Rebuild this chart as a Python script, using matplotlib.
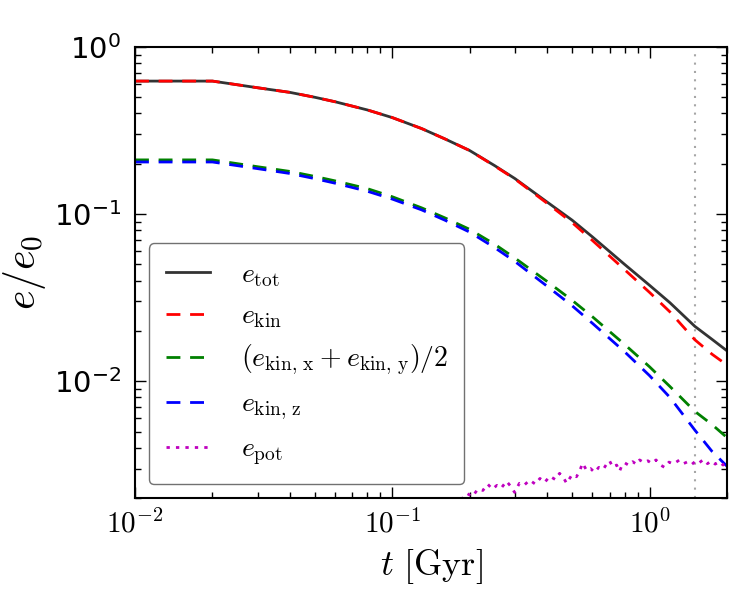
import numpy as np
import matplotlib
matplotlib.use('Agg')
import matplotlib.pyplot as plt

# Tiempos de salida (Gyr) y energias normalizadas e/e0
t = [0.01, 0.02, 0.03, 0.04, 0.05, 0.06, 0.08, 0.10, 0.13, 0.16, 0.20,
     0.25, 0.30, 0.40, 0.50, 0.60, 0.80, 1.00, 1.20, 1.50, 1.75, 2.00]

e_tot = [0.625, 0.625, 0.570, 0.535, 0.500, 0.470, 0.420, 0.378, 0.325, 0.282, 0.240,
         0.195, 0.163, 0.118, 0.092, 0.073, 0.050, 0.0375, 0.0295, 0.0213, 0.0178, 0.0152]
e_kin = [0.625, 0.625, 0.570, 0.535, 0.500, 0.470, 0.420, 0.378, 0.325, 0.282, 0.240,
         0.194, 0.162, 0.116, 0.089, 0.0695, 0.0465, 0.0340, 0.0260, 0.0177, 0.0145, 0.0125]
e_kin_xy = [0.211, 0.211, 0.192, 0.180, 0.168, 0.158, 0.142, 0.127, 0.109, 0.095, 0.081,
            0.066, 0.0545, 0.0395, 0.0305, 0.0243, 0.0166, 0.0122, 0.0093, 0.0066, 0.0055, 0.0046]
e_kin_z = [0.205, 0.205, 0.187, 0.175, 0.163, 0.153, 0.137, 0.123, 0.106, 0.092, 0.078,
           0.063, 0.052, 0.0370, 0.0283, 0.0222, 0.0150, 0.0108, 0.0080, 0.0051, 0.0038, 0.0031]

# Energia potencial (ruidosa), solo visible a partir de ~0.19 Gyr
t_pot = [0.185, 0.195, 0.205, 0.215, 0.225, 0.235, 0.245, 0.255, 0.265, 0.278, 0.288,
         0.299, 0.312, 0.325, 0.342, 0.36, 0.375, 0.391, 0.41, 0.43, 0.447, 0.462, 0.476,
         0.50, 0.52, 0.535, 0.549, 0.57, 0.59, 0.611, 0.635, 0.66, 0.68, 0.699, 0.72,
         0.745, 0.765, 0.78, 0.80, 0.83, 0.86, 0.89, 0.915, 0.95, 0.985, 1.02, 1.06,
         1.10, 1.144, 1.19, 1.24, 1.308, 1.36, 1.41, 1.46, 1.52, 1.564, 1.62, 1.68,
         1.74, 1.80, 1.87, 1.93, 2.00]
e_pot = [0.00195, 0.00213, 0.00204, 0.00226, 0.00222, 0.00242, 0.00226, 0.00238, 0.00229,
         0.00252, 0.00236, 0.00216, 0.00245, 0.00238, 0.00256, 0.00242, 0.00262, 0.00248,
         0.00270, 0.00258, 0.00281, 0.00266, 0.00245, 0.00276, 0.00268, 0.00290, 0.00323,
         0.00292, 0.00300, 0.00285, 0.00305, 0.00296, 0.00318, 0.00334, 0.00306, 0.00315,
         0.00289, 0.00312, 0.00325, 0.00314, 0.00330, 0.00318, 0.00338, 0.00326, 0.00334,
         0.00322, 0.00338, 0.00316, 0.00305, 0.00328, 0.00320, 0.00338, 0.00322, 0.00330,
         0.00318, 0.00335, 0.00326, 0.00340, 0.00321, 0.00333, 0.00319, 0.00330, 0.00315,
         0.00322]

t_mark = 1.5  # linea vertical punteada

plt.rcParams['mathtext.fontset'] = 'cm'

fig = plt.figure(figsize=(7.5, 6), dpi=100)
ax = fig.add_axes([0.18, 0.17, 0.7893, 0.7517])

ax.axvline(t_mark, color='0.65', lw=1.5, dashes=(1, 3))

ax.plot(t, e_tot, color='0.2', lw=2, label=r'$e_{\rm tot}$')
ax.plot(t, e_kin, color='r', lw=2, dashes=(5, 3.5), label=r'$e_{\rm kin}$')
ax.plot(t, e_kin_xy, color='g', lw=2, dashes=(5, 3.5),
        label=r'$(e_{\rm kin,\,x}+e_{\rm kin,\,y})/2$')
ax.plot(t, e_kin_z, color='b', lw=2, dashes=(5, 3.5), label=r'$e_{\rm kin,\,z}$')
ax.plot(t_pot, e_pot, color='m', lw=2, dashes=(1.2, 2.2), label=r'$e_{\rm pot}$')

ax.set_xscale('log')
ax.set_yscale('log')
ax.set_xlim(0.01, 2)
ax.set_ylim(0.002, 1)

ax.set_xticks([0.01, 0.1, 1])
ax.set_xticklabels([r'$10^{-2}$', r'$10^{-1}$', r'$10^{0}$'])
ax.set_yticks([0.01, 0.1, 1])
ax.set_yticklabels([r'$10^{-2}$', r'$10^{-1}$', r'$10^{0}$'])
for lbl in ax.get_yticklabels():
    lbl.set_math_fontfamily('dejavusans')

ax.tick_params(which='both', direction='in', top=True, right=True)
ax.tick_params(which='major', length=8, width=1)
ax.tick_params(which='minor', length=4, width=1)
ax.tick_params(axis='x', which='major', labelsize=21, pad=8)
ax.tick_params(axis='y', which='major', labelsize=21, pad=10)
for s in ax.spines.values():
    s.set_linewidth(1.5)

ax.set_xlabel(r'$t\ [\rm Gyr]$', fontsize=26, labelpad=6)
ax.set_ylabel(r'$e/e_0$', fontsize=30, labelpad=4)

leg = ax.legend(loc='lower left', fontsize=20, handlelength=1.6, borderpad=0.6,
                labelspacing=0.45, handletextpad=1.1, fancybox=True,
                borderaxespad=0.5)
leg.get_frame().set_edgecolor('0.3')
leg.get_frame().set_linewidth(1)

fig.savefig('out.png', dpi=100)
